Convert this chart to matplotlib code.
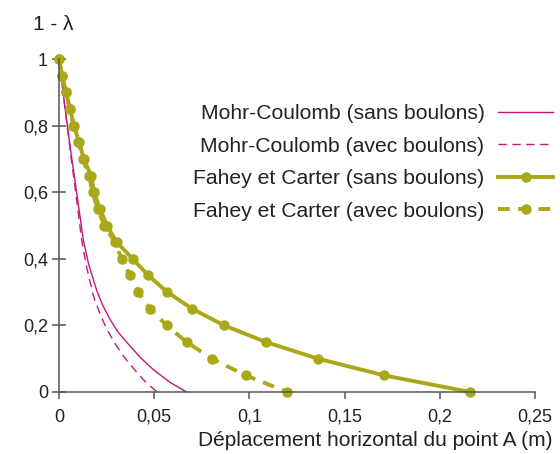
import matplotlib
matplotlib.use("Agg")
import matplotlib.pyplot as plt

plt.rcParams['font.family'] = ['Liberation Sans', 'DejaVu Sans']

# Mohr-Coulomb curves (no markers)
mc_sans_x = [0, 0.003, 0.006, 0.009, 0.0128, 0.0155, 0.0198, 0.023, 0.0268, 0.031,
             0.0373, 0.043, 0.0494, 0.058, 0.067]
mc_sans_y = [1, 0.86, 0.73, 0.61, 0.456, 0.385, 0.305, 0.26, 0.218, 0.18,
             0.138, 0.102, 0.068, 0.03, 0]
mc_avec_x = [0, 0.003, 0.006, 0.009, 0.0119, 0.0145, 0.018, 0.0215, 0.025, 0.0295,
             0.0338, 0.041, 0.046, 0.0515]
mc_avec_y = [1, 0.86, 0.72, 0.59, 0.456, 0.375, 0.29, 0.235, 0.19, 0.145,
             0.108, 0.058, 0.027, 0]

# Fahey et Carter curves (points every 0.05 of 1 - lambda)
fc_y = [1, 0.95, 0.9, 0.85, 0.8, 0.75, 0.7, 0.65, 0.6, 0.55, 0.5,
        0.45, 0.4, 0.35, 0.3, 0.25, 0.2, 0.15, 0.1, 0.05, 0]
fc_sans_x = [0, 0.0016, 0.0037, 0.0058, 0.0079, 0.0105, 0.0131, 0.0168, 0.0184, 0.0215, 0.0252,
             0.0303, 0.0387, 0.0469, 0.0569, 0.0699, 0.0867, 0.1087, 0.136, 0.1707, 0.2159]
fc_avec_x = [0, 0.0016, 0.0036, 0.0056, 0.0076, 0.0100, 0.0125, 0.0158, 0.0176, 0.0203, 0.0238,
             0.0294, 0.0329, 0.0373, 0.0417, 0.0478, 0.0565, 0.067, 0.0803, 0.098, 0.12]

xticks = [0, 0.05, 0.1, 0.15, 0.2, 0.25]
xtick_labels = ['0', '0,05', '0,1', '0,15', '0,2', '0,25']
yticks = [0, 0.2, 0.4, 0.6, 0.8, 1]
ytick_labels = ['0', '0,2', '0,4', '0,6', '0,8', '1']

magenta = '#c2187a'
olive = '#a8a818'
axis_col = '#555555'
text_col = '#222222'

fig = plt.figure(figsize=(5.6, 4.54), dpi=100)
ax = fig.add_axes([59 / 560, 62 / 454, 476 / 560, 333 / 454])

ax.plot(mc_sans_x, mc_sans_y, color=magenta, lw=1.0, clip_on=False,
        label='Mohr-Coulomb (sans boulons)')
ax.plot(mc_avec_x, mc_avec_y, color=magenta, lw=1.0, dashes=(6, 4), clip_on=False,
        label='Mohr-Coulomb (avec boulons)')
ax.plot(fc_sans_x, fc_y, color=olive, lw=2.8, marker='o', ms=6.5, clip_on=False,
        label='Fahey et Carter (sans boulons)')
ax.plot(fc_avec_x, fc_y, color=olive, lw=2.8, marker='o', ms=6.5, dashes=(3, 2.2),
        clip_on=False, label='Fahey et Carter (avec boulons)')

ax.set_xlim(0, 0.25)
ax.set_ylim(0, 1)
ax.set_xticks(xticks)
ax.set_xticklabels(xtick_labels)
ax.set_yticks(yticks)
ax.set_yticklabels(ytick_labels)

for s in ['top', 'right']:
    ax.spines[s].set_visible(False)
for s in ['left', 'bottom']:
    ax.spines[s].set_color(axis_col)
    ax.spines[s].set_linewidth(1.1)

ax.tick_params(axis='y', direction='inout', length=10, width=1.1, color=axis_col,
               labelsize=13, labelcolor=text_col, pad=3)
ax.tick_params(axis='x', direction='out', length=5, width=1.1, color=axis_col,
               labelsize=13, labelcolor=text_col, pad=7)

fig.text(553 / 560, 1 - 446 / 454, 'Déplacement horizontal du point A (m)',
         ha='right', va='baseline', fontsize=15, color=text_col)
fig.text(53 / 560, 1 - 24 / 454, '1 - λ', ha='center', va='center',
         fontsize=15, color=text_col)

leg = ax.legend(loc='upper right', bbox_to_anchor=(553 / 560, 1 - 104 / 454),
                bbox_transform=fig.transFigure, frameon=False, markerfirst=False,
                fontsize=15.2, handlelength=2.6, handletextpad=0.65, labelspacing=0.64,
                borderpad=0, borderaxespad=0, numpoints=1)
for t in leg.get_texts():
    t.set_color(text_col)

fig.savefig('out.png', dpi=100)
